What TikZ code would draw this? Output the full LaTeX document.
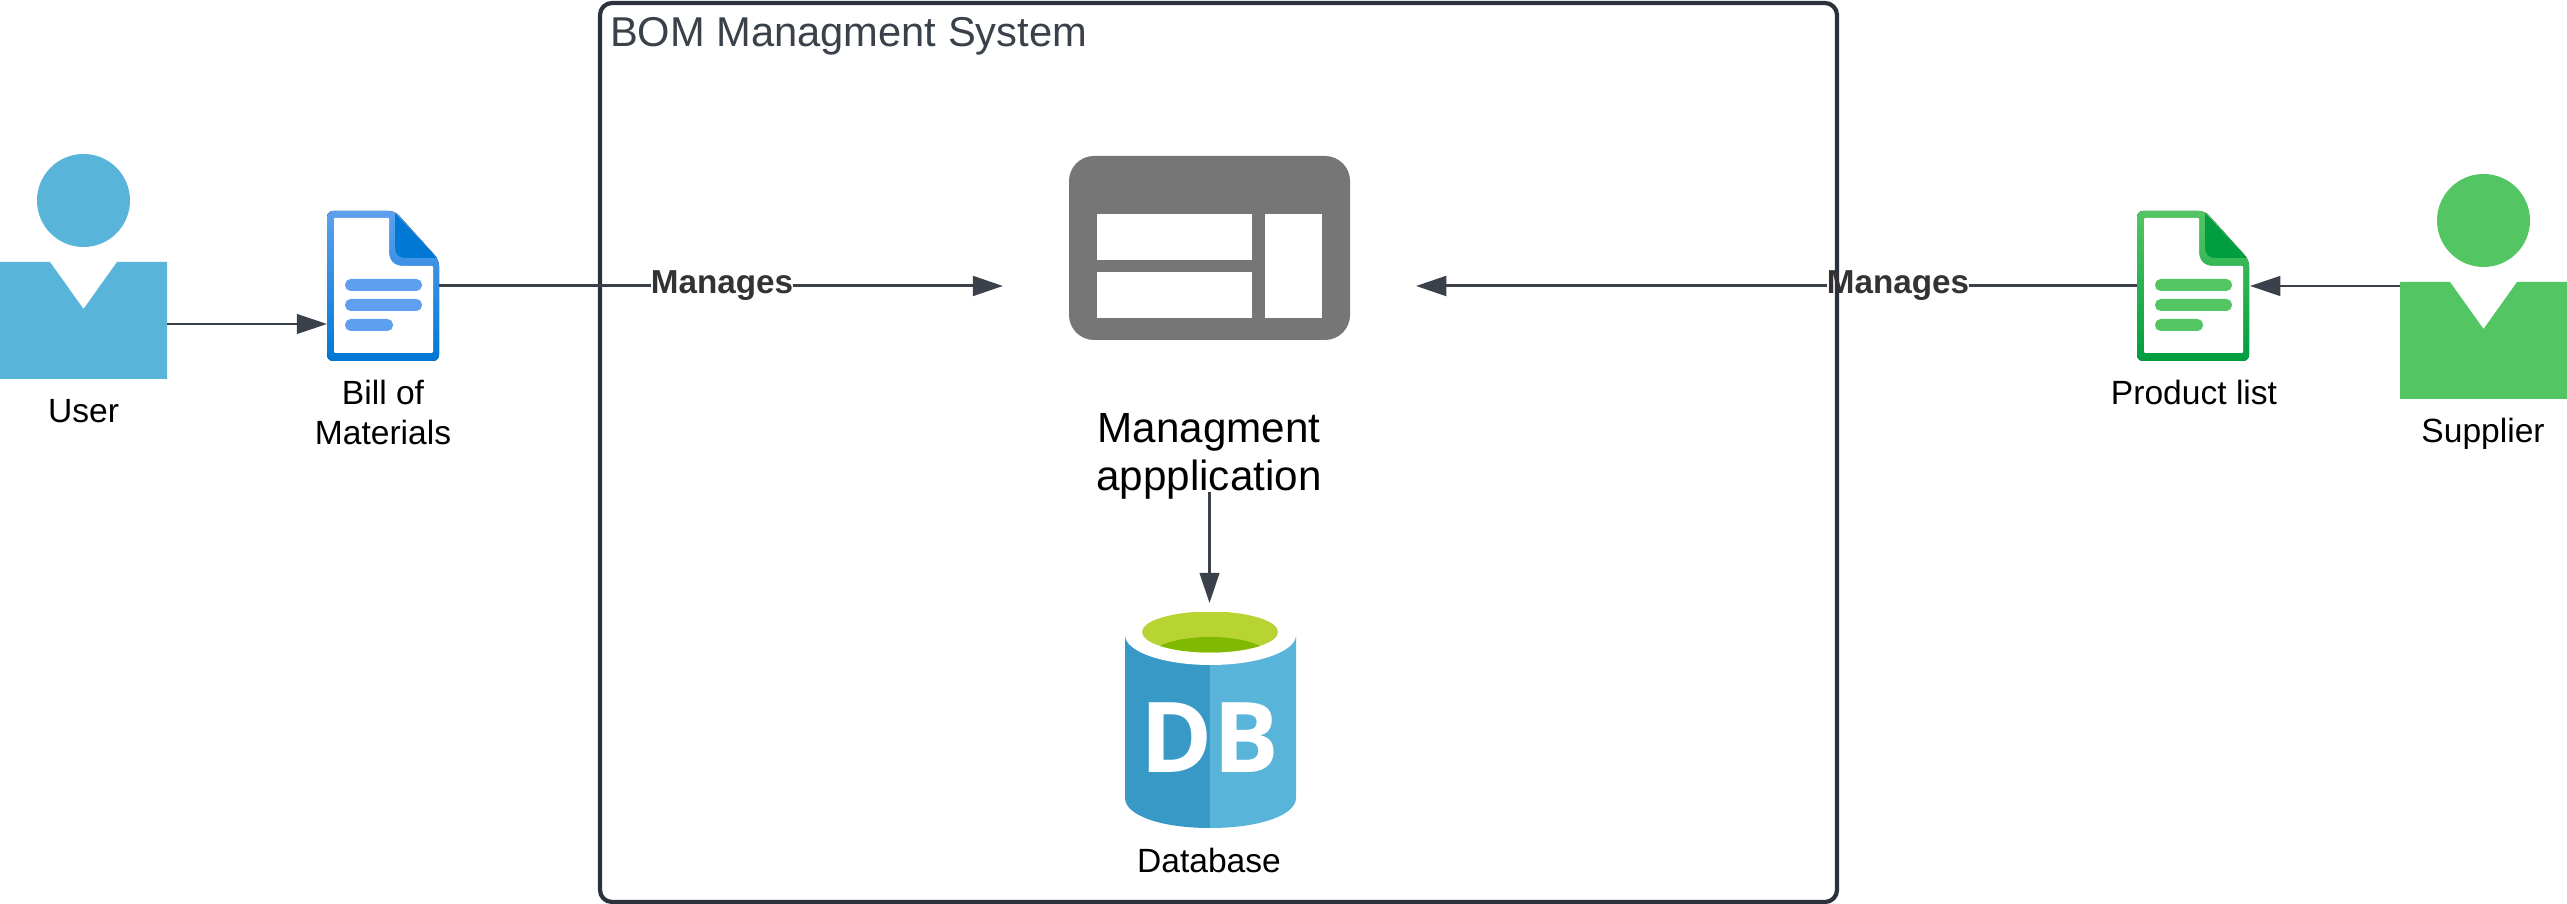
\documentclass[tikz,border=0pt]{standalone}
\usepackage{fontspec}
\setmainfont{Liberation Sans}
\newfontfamily\dbfont{Open Sans}
\usepackage{xcolor}
\usepackage{tikz}
\usetikzlibrary{arrows.meta, calc}

\definecolor{inkdark}{HTML}{3A414A}
\definecolor{framedark}{HTML}{2B323C}
\definecolor{userblue}{HTML}{59B4D9}
\definecolor{dbblue}{HTML}{3999C6}
\definecolor{supgreen}{HTML}{54C563}
\definecolor{appgrey}{HTML}{767676}
\definecolor{docblue}{HTML}{5EA0EF}
\definecolor{foldblue}{HTML}{0078D4}
\definecolor{foldgreen}{HTML}{009E3F}
\definecolor{limelight}{HTML}{B8D432}
\definecolor{limedark}{HTML}{7FBA00}

\tikzset{
	hold/.style={inner sep=0, outer sep=0},
	label/.style={hold, font=\fontsize{9.55}{11.4}\selectfont, align=center, text=black},
	applabel/.style={label, font=\fontsize{12}{13.7}\selectfont},
	manages/.style={hold, minimum width=141*.01cm, text height=9pt, text depth=5pt, text=black!80, font=\fontsize{9.45}{11}\selectfont\bfseries},
	link/.style={draw=inkdark, line width=.85pt},
	tiplink/.style={link, -{Triangle[length=8.6pt, width=5.6pt]}},
	thinlink/.style={tiplink, line width=.65pt},
	bar/.style={rounded corners=5.6*.01cm}
}

% args: left edge, light colour, dark colour
\newcommand{\docicon}[3]{
	\begin{scope}[xshift=#1*.01cm]
		\fill[top color=#2, bottom color=#3, rounded corners=6*.01cm] (0,211) -- (68,211) -- (112,260) -- (112,361) -- (0,361) -- cycle;
		\fill[white, rounded corners=1*.01cm] (7,218) -- (62,218) -- (62,250) .. controls (62,261) and (67,266) .. (78,266) -- (106,266) -- (106,353) -- (7,353) -- cycle;
		\fill[#3] (68,213) -- (110,258) -- (78,258) .. controls (72,258) and (68,254) .. (68,248) -- cycle;
		\fill[#2, bar] (18,279) rectangle (95,291);
		\fill[#2, bar] (18,299) rectangle (95,311);
		\fill[#2, bar] (18,319) rectangle (66,331);
	\end{scope}
}
% args: centre x, top of head, colour
\newcommand{\personicon}[3]{
	\begin{scope}[xshift=#1*.01cm, yshift=-#2*.01cm]
		\fill[#3] (0,46.5) circle (46.5);
		\fill[#3] (-83.5,108) -- (-33.5,108) -- (0,155) -- (33.5,108) -- (83.5,108) -- (83.5,225) -- (-83.5,225) -- cycle;
	\end{scope}
}

\begin{document}
\begin{tikzpicture}[x=.01cm, y=-.01cm]
	\useasboundingbox (0,0) rectangle (2567,904);
	\fill[white] (0,0) rectangle (2567,904);

	% system frame
	\node[hold, draw=framedark, line width=1.2pt, rounded corners=12*.01cm, minimum width=1237*.01cm, minimum height=899*.01cm] (system) at (1218.5,452.5) {};
	\node[hold, anchor=base west, text=inkdark, font=\fontsize{11.85}{14}\selectfont] (title) at (610,47) {BOM Managment System};

	% holders for the icons
	\node[hold, minimum width=167*.01cm, minimum height=117*.01cm] (user) at (83.5,320.5) {};
	\node[hold, minimum width=112*.01cm, minimum height=150*.01cm] (bom) at (383,286) {};
	\node[hold, minimum size=413*.01cm] (app) at (1209.5,286) {};
	\node[hold, minimum width=171*.01cm, minimum height=225*.01cm] (db) at (1209.5,715.5) {};
	\node[hold, minimum width=113*.01cm, minimum height=150*.01cm] (plist) at (2193.5,286) {};
	\node[hold, minimum width=167*.01cm, minimum height=117*.01cm] (supplier) at (2483.5,340.5) {};

	% people
	\personicon{83.5}{154}{userblue}
	\personicon{2483.5}{174}{supgreen}

	% documents
	\docicon{327}{docblue}{foldblue}
	\docicon{2137}{supgreen}{foldgreen}

	% application window
	\fill[appgrey, rounded corners=25*.01cm] (1069,156) rectangle (1350,340);
	\fill[white] (1097,214) rectangle (1252,260);
	\fill[white] (1097,272) rectangle (1252,318);
	\fill[white] (1265,214) rectangle (1322,318);

	% database
	\fill[dbblue] (1125,635) -- (1210,635) -- (1210,828) .. controls (1160,828) and (1125,815) .. (1125,798) -- cycle;
	\fill[userblue] (1296,635) -- (1210,635) -- (1210,828) .. controls (1260,828) and (1296,815) .. (1296,798) -- cycle;
	\fill[white] (1210.5,635) ellipse (85.5 and 30);
	\begin{scope}
		\clip (1210,632) ellipse (68 and 20.5);
		\fill[limelight] (1142,612) rectangle (1278,653);
		\fill[limedark] (1210,657) ellipse (60 and 20);
	\end{scope}
	\node[hold, text=white, font=\dbfont\fontsize{27.8}{27.8}\selectfont\bfseries, anchor=base] (dbtext) at (1210,773) {DB};

	% labels
	\node[manages] (manl) at (722,286) {Manages};
	\node[manages] (manr) at (1898,286) {Manages};
	\node[label, anchor=base] (userl) at (83.5,423) {User};
	\node[label, anchor=base] (boml) at (383,445) {Bill of\\Materials};
	\node[applabel, anchor=base] (appl) at (1209,491) {Managment\\appplication};
	\node[label, anchor=base] (dbl) at (1209,873) {Database};
	\node[label, anchor=base] (plistl) at (2194,405) {Product list};
	\node[label, anchor=base] (supl) at (2483,443) {Supplier};

	% links
	\draw[thinlink] ($(user.east)+(0,3.5)$) -- ($(bom.west)+(0,38)$);
	\draw[link] (bom.east) -- (manl.west);
	\draw[tiplink] (manl.east) -- (app.west);
	\draw[link] (plist.west) -- (manr.east);
	\draw[tiplink] (manr.west) -- (app.east);
	\draw[thinlink] ($(supplier.west)+(0,-54.5)$) -- (plist.east);
	\draw[thinlink] (app.south) -- (db.north);
\end{tikzpicture}
\end{document}
